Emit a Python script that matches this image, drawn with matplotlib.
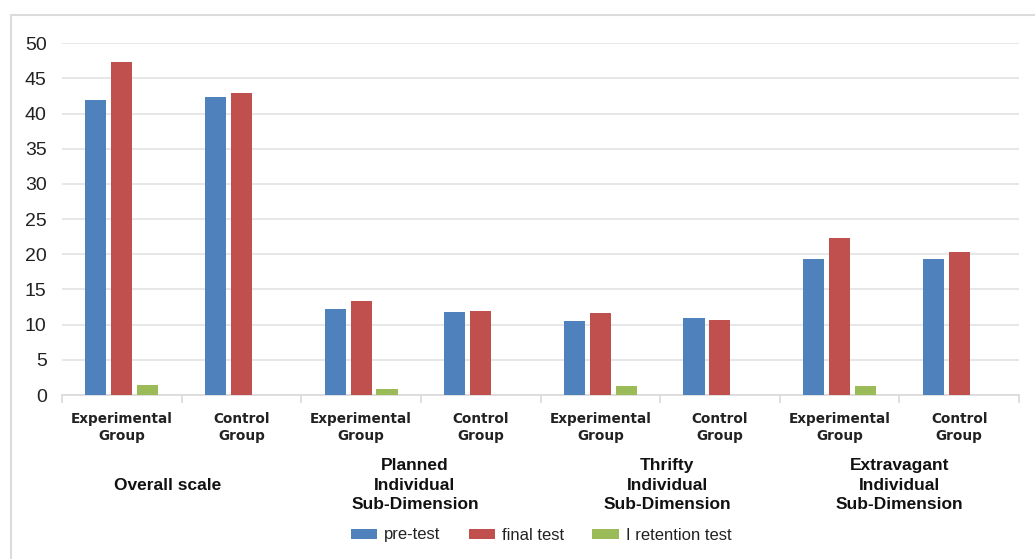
import matplotlib
matplotlib.use("Agg")
import matplotlib.pyplot as plt
from matplotlib.patches import Rectangle, Patch
from matplotlib.transforms import blended_transform_factory
import numpy as np

categories = ["Experimental\nGroup", "Control\nGroup"] * 4
groups = ["Overall scale", "Planned\nIndividual\nSub-Dimension",
          "Thrifty\nIndividual\nSub-Dimension", "Extravagant\nIndividual\nSub-Dimension"]
series_names = ["pre-test", "final test", "I retention test"]
pre_test = [42.0, 42.3, 12.2, 11.85, 10.5, 10.9, 19.3, 19.4]
final_test = [47.3, 42.9, 13.4, 12.0, 11.7, 10.66, 22.3, 20.3]
retention_test = [1.42, 0, 0.85, 0, 1.28, 0, 1.33, 0]
yticks = [0, 5, 10, 15, 20, 25, 30, 35, 40, 45, 50]

colors = ["#4F81BD", "#C0504D", "#9BBB59"]

fig = plt.figure(figsize=(10.35, 5.59), dpi=100)
W, H = 1035, 559
ax = fig.add_axes([62 / W, (H - 395) / H, (1019 - 62) / W, (395 - 43.3) / H])

x = np.arange(len(categories))
step, bw = 0.217, 0.176
for i, (vals, c) in enumerate(zip([pre_test, final_test, retention_test], colors)):
    xs = [xi + (i - 1) * step for xi, v in zip(x, vals) if v > 0]
    vs = [v for v in vals if v > 0]
    ax.bar(xs, vs, width=bw, color=c, zorder=3)

ax.set_xlim(-0.5, len(categories) - 0.5)
ax.set_ylim(0, 50)
ax.set_yticks(yticks)
ax.set_yticklabels([str(t) for t in yticks], fontsize=14, color="#222222",
                   family="Liberation Sans")
ax.tick_params(axis="y", length=0, pad=11)
ax.yaxis.grid(True, color="#e3e3e3", lw=1.2, zorder=0)
for s in ["top", "right", "left"]:
    ax.spines[s].set_visible(False)
ax.spines["bottom"].set_color("#d9d9d9")
ax.spines["bottom"].set_linewidth(1.2)

ax.set_xticks(x)
ax.set_xticklabels(categories, fontsize=9.8, fontweight="bold", family="DejaVu Sans",
                   color="#222222", linespacing=1.3)
ax.set_xticks(np.arange(-0.5, len(categories)), minor=True)
ax.tick_params(axis="x", which="major", length=0, pad=12)
ax.tick_params(axis="x", which="minor", length=6, color="#d9d9d9", width=1.2)

trans = blended_transform_factory(ax.transData, fig.transFigure)
group_x = [0.38, 2.45, 4.56, 6.5]
for gx, g in zip(group_x, groups):
    ax.text(gx, (H - 485) / H, g, transform=trans, ha="center", va="center",
            fontsize=12.5, fontweight="bold", family="Liberation Sans",
            color="#111111", linespacing=1.4)

handles = [Patch(facecolor=c, edgecolor="none") for c in colors]
fig.legend(handles, series_names, loc="center", bbox_to_anchor=(541 / W, (H - 535) / H),
           ncol=3, frameon=False, prop={"family": "Liberation Sans", "size": 12},
           handlelength=1.6, handleheight=0.55, handletextpad=0.4, columnspacing=1.7,
           labelcolor="#222222")

fig.patches.append(Rectangle((11 / W, -0.05), 1.1, (H - 15) / H + 0.05,
                             transform=fig.transFigure, fill=False,
                             edgecolor="#dcdcdc", lw=1.5))

fig.savefig("out.png", dpi=100, facecolor="white")
